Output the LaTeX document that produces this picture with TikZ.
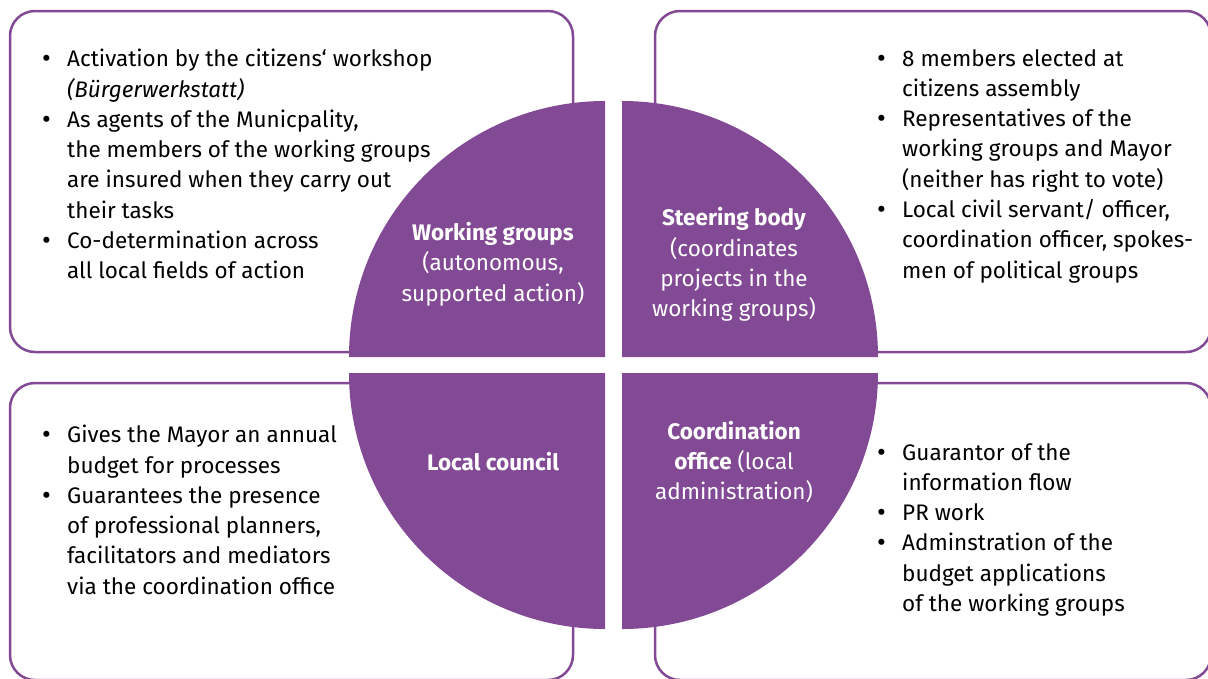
\documentclass[tikz,border=0pt]{standalone}
\usepackage{fontspec}
\setmainfont{Fira Sans}
\usetikzlibrary{positioning}

\definecolor{quadpurple}{RGB}{130,74,148}
\newcommand{\itm}{\makebox[25pt][l]{\raisebox{-1pt}{\fontsize{27}{0}\selectfont\textbullet}}}
\newcommand{\ind}{\hspace*{25pt}}

\begin{document}
\begin{tikzpicture}[x=1pt,y=1pt,
    infobox/.style={draw=quadpurple,line width=2.5pt,rounded corners=25pt,inner sep=0pt},
    quadrant/.style={fill=quadpurple},
    bullets/.style={align=left,anchor=north west,inner sep=0pt,font=\fontsize{22.5}{30.3}\selectfont},
    quadlabel/.style={align=center,text=white,inner sep=0pt,font=\fontsize{22.5}{30.3}\selectfont}]
    \useasboundingbox (0,0) rectangle (1208,-678);

    % the four boxes
    \node [infobox,minimum width=563pt,minimum height=341pt] (wgbox) at (291.5,-181.5) {};
    \node [infobox,minimum width=556pt,minimum height=341pt] (sbbox) at (933,-181.5) {};
    \node [infobox,minimum width=563pt,minimum height=297pt] (lcbox) at (291.5,-531.5) {};
    \node [infobox,minimum width=556pt,minimum height=297pt] (cobox) at (933,-531.5) {};

    % the circle, cut in four
    \fill [quadrant] (605,-357) -- ++(-256,0) arc [start angle=180,end angle=90,radius=256pt] -- cycle;
    \fill [quadrant] (622,-357) -- ++(0,256) arc [start angle=90,end angle=0,radius=256pt] -- cycle;
    \fill [quadrant] (605,-373) -- ++(-256,0) arc [start angle=180,end angle=270,radius=256pt] -- cycle;
    \fill [quadrant] (622,-373) -- ++(256,0) arc [start angle=0,end angle=-90,radius=256pt] -- cycle;

    \node [quadlabel] (wg) at (493,-264) {\textbf{Working groups}\\(autonomous,\\supported action)};
    \node [quadlabel] (sb) at (734,-264.5) {\textbf{Steering body}\\(coordinates\\projects in the\\working groups)};
    \node [quadlabel] (lc) at (493,-462) {\textbf{Local council}};
    \node [quadlabel] (co) at (734,-462) {\textbf{Coordination}\\\textbf{office} (local\\administration)};

    % texts in the boxes
    \node [bullets] (wgtext) at (42,-49) {\itm Activation by the citizens‘ workshop\\
        \ind\textit{(Bürgerwerkstatt)}\\
        \itm As agents of the Municpality,\\
        \ind the members of the working groups\\
        \ind are insured when they carry out\\
        \ind their tasks\\
        \itm Co-determination across\\
        \ind all local fields of action};
    \node [bullets] (sbtext) at (877,-49) {\itm 8 members elected at\\
        \ind citizens assembly\\
        \itm Representatives of the\\
        \ind working groups and Mayor\\
        \ind (neither has right to vote)\\
        \itm Local civil servant/ officer,\\
        \ind coordination officer, spokes-\\
        \ind men of political groups};
    \node [bullets] (lctext) at (42,-425) {\itm Gives the Mayor an annual\\
        \ind budget for processes\\
        \itm Guarantees the presence\\
        \ind of professional planners,\\
        \ind facilitators and mediators\\
        \ind via the coordination office};
    \node [bullets] (cotext) at (877,-443) {\itm Guarantor of the\\
        \ind information flow\\
        \itm PR work\\
        \itm Adminstration of the\\
        \ind budget applications\\
        \ind of the working groups};
\end{tikzpicture}
\end{document}
